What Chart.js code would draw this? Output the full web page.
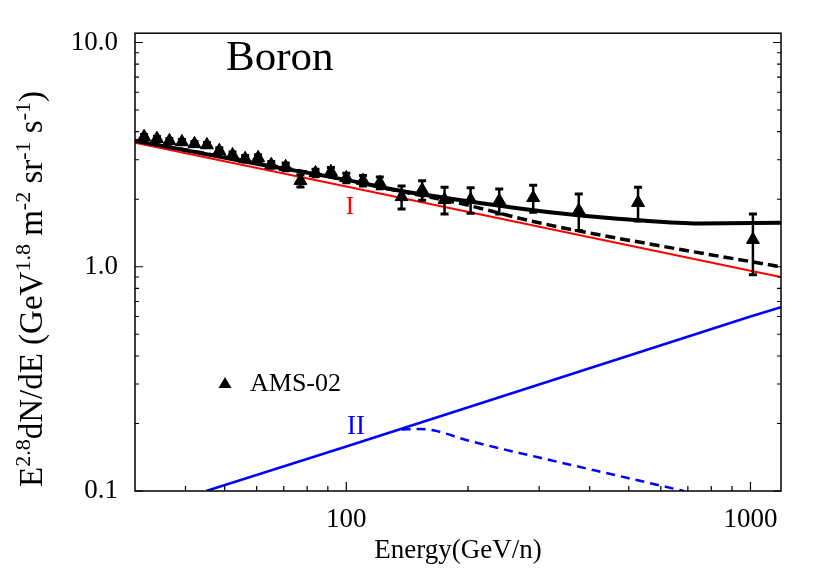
<!DOCTYPE html>
<html>
<head>
<meta charset="utf-8">
<script src="https://cdn.jsdelivr.net/npm/chart.js@4.4.1/dist/chart.umd.min.js"></script>
<style>
  html, body { margin: 0; padding: 0; background: #fff; }
  #wrap { width: 830px; height: 581px; }
</style>
</head>
<body>
<div id="wrap"><canvas id="boronChart" width="830" height="581"></canvas></div>
<script>
// AMS-02 boron points (E^2.8 flux)
const amsEnergy = [31.6, 34.0, 36.5, 39.2, 42.1, 45.2, 48.5, 52.3, 56.2, 60.5, 65.2, 70.8, 77.0, 83.9, 91.6, 100, 110, 121, 137, 154, 175, 203, 239, 290, 376, 527, 1014];
const amsFlux = [3.80, 3.72, 3.64, 3.60, 3.53, 3.49, 3.29, 3.15, 3.03, 3.06, 2.85, 2.79, 2.42, 2.62, 2.65, 2.49, 2.42, 2.37, 2.05, 2.20, 1.99, 1.99, 1.97, 2.03, 1.78, 1.93, 1.32];
const amsError = [0.09, 0.09, 0.09, 0.09, 0.09, 0.09, 0.10, 0.10, 0.10, 0.10, 0.10, 0.11, 0.15, 0.10, 0.12, 0.12, 0.13, 0.14, 0.24, 0.22, 0.27, 0.26, 0.25, 0.28, 0.33, 0.33, 0.40];

// model curves
const totalEnergy = [30, 60, 100, 136, 200, 337, 530, 745, 1190];
const totalFlux = [3.65, 2.88, 2.44, 2.18, 1.96, 1.73, 1.61, 1.56, 1.57];
const cutEnergy = [30, 100, 136, 188, 300, 627, 1190];
const cutFlux = [3.65, 2.44, 2.17, 1.93, 1.57, 1.22, 1.00];
const compIEnergy = [30, 100, 1000, 1190];
const compIFlux = [3.57, 2.28, 0.96, 0.90];
const compIIEnergy = [45, 100, 1000, 1190];
const compIIFlux = [0.10, 0.158, 0.60, 0.66];
const compIICutEnergy = [137, 150, 165, 200, 300, 500, 684];
const compIICutFlux = [0.188, 0.189, 0.186, 0.168, 0.141, 0.114, 0.100];

// axis ticks
const xMajorTicks = [100, 1000];
const xMinorTicks = [40, 50, 60, 70, 80, 90, 200, 300, 400, 500, 600, 700, 800, 900];
const yMajorTicks = [0.1, 1, 10];
const yMinorTicks = [0.2, 0.3, 0.4, 0.5, 0.6, 0.7, 0.8, 0.9, 2, 3, 4, 5, 6, 7, 8, 9];

const serif = "'Liberation Serif', 'Times New Roman', serif";
Chart.defaults.font.family = serif;
Chart.defaults.color = '#000';

const pts = (xs, ys) => xs.map((v, i) => ({ x: v, y: ys[i] }));

// frame, inward ticks, error bars and in-plot text
const boronDecor = {
  id: 'boronDecor',
  afterDatasetsDraw(chart) {
    const { ctx, scales: { x, y } } = chart;
    ctx.save();
    ctx.strokeStyle = '#000';
    amsEnergy.forEach((e, i) => {
      const px = x.getPixelForValue(e);
      const top = y.getPixelForValue(amsFlux[i] + amsError[i]);
      const bot = y.getPixelForValue(amsFlux[i] - amsError[i]);
      ctx.lineWidth = 2.5;
      ctx.beginPath();
      ctx.moveTo(px, top); ctx.lineTo(px, bot);
      ctx.stroke();
      ctx.lineWidth = 3;
      ctx.beginPath();
      ctx.moveTo(px - 4, top); ctx.lineTo(px + 4, top);
      ctx.moveTo(px - 4, bot); ctx.lineTo(px + 4, bot);
      ctx.stroke();
    });
    ctx.restore();
  },
  afterDraw(chart) {
    const { ctx, chartArea: a, scales: { x, y } } = chart;
    ctx.save();
    ctx.strokeStyle = '#000';
    ctx.lineWidth = 1.5;
    ctx.strokeRect(a.left, a.top, a.right - a.left, a.bottom - a.top);

    ctx.lineWidth = 1.2;
    ctx.beginPath();
    xMajorTicks.forEach(v => {
      const px = x.getPixelForValue(v);
      ctx.moveTo(px, a.bottom); ctx.lineTo(px, a.bottom - 9);
    });
    xMinorTicks.forEach(v => {
      const px = x.getPixelForValue(v);
      ctx.moveTo(px, a.bottom); ctx.lineTo(px, a.bottom - 5);
    });
    yMajorTicks.forEach(v => {
      const py = y.getPixelForValue(v);
      ctx.moveTo(a.left, py); ctx.lineTo(a.left + 8, py);
      ctx.moveTo(a.right, py); ctx.lineTo(a.right - 8, py);
    });
    yMinorTicks.forEach(v => {
      const py = y.getPixelForValue(v);
      ctx.moveTo(a.left, py); ctx.lineTo(a.left + 4, py);
      ctx.moveTo(a.right, py); ctx.lineTo(a.right - 4, py);
    });
    ctx.stroke();

    // texts inside the frame
    ctx.fillStyle = '#000';
    ctx.textBaseline = 'alphabetic';
    ctx.textAlign = 'left';
    ctx.font = '43px ' + serif;
    ctx.fillText('Boron', 226, 70);

    ctx.font = '26px ' + serif;
    ctx.fillText('AMS-02', 250, 391);
    ctx.beginPath();
    ctx.moveTo(225, 377); ctx.lineTo(231.5, 388); ctx.lineTo(218.5, 388);
    ctx.closePath();
    ctx.fill();

    ctx.textAlign = 'center';
    ctx.fillStyle = '#ff0000';
    ctx.font = '25px ' + serif;
    ctx.fillText('I', 350, 214);
    ctx.fillStyle = '#0000ff';
    ctx.font = '27px ' + serif;
    ctx.fillText('II', 356, 434);

    // y axis title with superscripts
    const parts = [['E', 0], ['2.8', 1], ['dN/dE (GeV', 0], ['1.8', 1], [' m', 0], ['-2', 1],
                   [' sr', 0], ['-1', 1], [' s', 0], ['-1', 1], [')', 0]];
    const mainFont = '33px ' + serif, supFont = '22px ' + serif;
    ctx.fillStyle = '#000';
    ctx.textAlign = 'left';
    ctx.translate(42, 289);
    ctx.rotate(-Math.PI / 2);
    let total = 0;
    parts.forEach(p => { ctx.font = p[1] ? supFont : mainFont; total += ctx.measureText(p[0]).width; });
    let cx = -total / 2;
    parts.forEach(p => {
      ctx.font = p[1] ? supFont : mainFont;
      ctx.fillText(p[0], cx, p[1] ? -12 : 0);
      cx += ctx.measureText(p[0]).width;
    });
    ctx.restore();
  }
};

const ctx = document.getElementById('boronChart').getContext('2d');
const boronChart = new Chart(ctx, {
  type: 'line',
  data: {
    datasets: [
      {
        label: 'AMS-02',
        data: pts(amsEnergy, amsFlux),
        showLine: false,
        pointStyle: 'triangle',
        pointRadius: 7.5,
        pointBackgroundColor: '#000',
        pointBorderColor: '#000',
        pointBorderWidth: 1
      },
      {
        label: 'total',
        data: pts(totalEnergy, totalFlux),
        borderColor: '#000',
        borderWidth: 4,
        pointRadius: 0,
        cubicInterpolationMode: 'monotone'
      },
      {
        label: 'total (cut)',
        data: pts(cutEnergy, cutFlux),
        borderColor: '#000',
        borderWidth: 3.5,
        borderDash: [10, 5],
        pointRadius: 0,
        cubicInterpolationMode: 'monotone'
      },
      {
        label: 'I',
        data: pts(compIEnergy, compIFlux),
        borderColor: '#ff0000',
        borderWidth: 2,
        pointRadius: 0
      },
      {
        label: 'II',
        data: pts(compIIEnergy, compIIFlux),
        borderColor: '#0000ff',
        borderWidth: 2.5,
        pointRadius: 0
      },
      {
        label: 'II (cut)',
        data: pts(compIICutEnergy, compIICutFlux),
        borderColor: '#0000ff',
        borderWidth: 2.5,
        borderDash: [9, 6],
        pointRadius: 0,
        cubicInterpolationMode: 'monotone'
      }
    ]
  },
  options: {
    responsive: false,
    animation: false,
    events: [],
    layout: { padding: { top: 33, right: 49, left: 0, bottom: 0 } },
    plugins: {
      legend: { display: false },
      tooltip: { enabled: false }
    },
    scales: {
      x: {
        type: 'logarithmic',
        min: 30,
        max: 1190,
        grid: { display: false, drawTicks: false },
        border: { display: false },
        afterFit: s => { s.height = 90; },
        afterBuildTicks: s => { s.ticks = xMajorTicks.map(v => ({ value: v })); },
        ticks: {
          autoSkip: false,
          maxRotation: 0,
          padding: 13,
          font: { size: 27 },
          callback: v => String(v)
        },
        title: {
          display: true,
          text: 'Energy(GeV/n)',
          font: { size: 27 },
          padding: { top: 0, bottom: 14 }
        }
      },
      y: {
        type: 'logarithmic',
        min: 0.1,
        max: 11,
        grid: { display: false, drawTicks: false },
        border: { display: false },
        afterFit: s => { s.width = 135; },
        afterBuildTicks: s => { s.ticks = yMajorTicks.map(v => ({ value: v })); },
        ticks: {
          autoSkip: false,
          padding: 17,
          font: { size: 27 },
          callback: v => Number(v).toFixed(1)
        }
      }
    }
  },
  plugins: [boronDecor]
});
</script>
</body>
</html>
